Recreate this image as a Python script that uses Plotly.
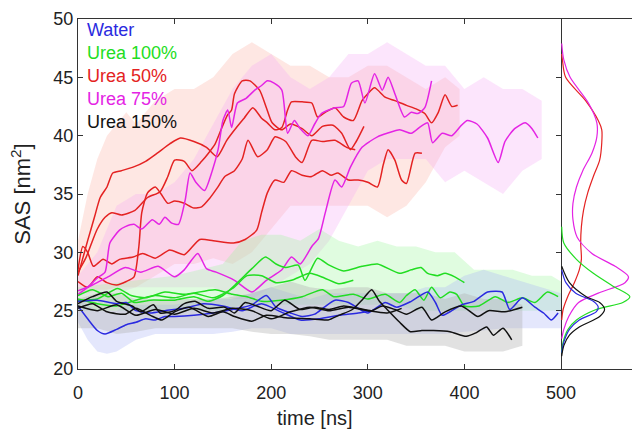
import plotly.graph_objects as go

# ---------------- data ----------------
# smoothed trajectories: time [ns] and SAS [nm^2]
water_1_t = [0,10,20,28,40,50,60,70,80,90,100,120,140,160,180,195,205,220,232,245,255,266,280,290,300,310,318,330,345,362,370,377,387,397,410,424,439,447,460,473,482,490,497]
water_1_v = [25.4,24.3,23.3,23.0,23.4,23.8,24.0,24.3,24.2,24.5,24.5,24.6,24.8,25.1,25.5,26.3,25.3,24.8,24.5,24.7,25.3,25.9,25.7,25.2,24.8,25.3,25.7,25.3,25.8,26.6,25.7,24.6,25.0,25.5,25.8,26.6,26.6,25.1,26.1,25.3,24.8,24.2,24.8]
water_2_t = [0,20,40,50,60,75,90,110,130,150,170,190,210,230,250,270,290,305]
water_2_v = [25.8,25.9,25.6,25.7,25.0,24.8,25.0,25.2,25.6,25.4,25.0,25.6,24.9,24.2,24.3,24.6,24.8,25.0]

u150_1_t = [0,15,30,40,56,65,78,85,100,110,121,135,152,162,173,185,200,214,230,245,260,275,290,304,315,328,340,356,366,380,397,414,425,442,460]
u150_1_v = [25.6,26.2,26.6,25.8,25.4,24.9,25.5,24.8,25.0,25.6,25.8,25.2,25.3,24.8,25.7,25.4,25.0,25.9,25.1,25.3,25.1,25.4,25.2,25.0,25.4,25.1,24.7,25.3,24.2,24.9,25.4,24.5,25.0,24.9,25.3]
u150_2_t = [0,15,30,49,60,75,87,100,115,135,150,162,180,195,215,240,259,270,284,295,304,312,320,333,344,356,368,385,402,412,423,430,440,449]
u150_2_v = [25.2,25.6,24.9,24.7,25.2,24.6,24.2,24.9,25.3,24.5,24.9,24.5,24.1,24.6,24.4,24.3,24.2,24.6,25.1,26.0,26.8,25.8,25.1,24.0,23.2,23.3,23.3,23.2,22.8,23.1,23.6,22.9,23.5,22.5]
u150_3_t = [0,20,40,60,80,100,120,140,160,180,200,220,240,260,280,300,320,335]
u150_3_v = [25.4,25.0,25.5,24.6,25.1,24.7,25.2,24.8,25.2,25.0,24.3,24.9,25.3,25.0,25.3,25.0,24.8,25.2]

u100_1_t = [0,15,31,45,58,75,100,120,135,150,165,180,194,205,215,228,235,248,260,275,294,310,333,345,355,362,372,380,390,400]
u100_1_v = [26.3,26.8,26.2,26.5,25.7,25.9,25.9,26.2,25.8,26.3,27.4,28.6,29.6,29.0,28.7,28.9,27.6,29.5,28.9,28.4,28.8,29.0,28.2,28.5,28.7,28.2,28.0,28.2,27.9,27.4]
u100_2_t = [0,20,41,55,70,90,110,142,160,175,190,210,232,253,265,285,300,318,333,340,349,358,366,375,385,392,400,415,432,445,460,473,486,497]
u100_2_v = [25.9,26.0,26.9,26.3,26.1,26.6,26.4,26.8,26.4,26.2,25.8,25.9,26.2,26.8,26.2,26.4,26.0,26.4,25.7,26.3,26.8,25.9,27.0,26.1,26.6,26.4,25.4,25.4,26.2,25.7,26.1,25.7,26.6,26.2]
u100_3_t = [0,20,40,60,80,100,120,140,160,175,190,205,221,240,255,270,285]
u100_3_v = [26.0,25.6,25.4,25.9,26.3,26.1,26.5,26.1,26.9,28.0,28.0,27.4,27.6,28.2,27.8,27.3,27.6]

u75_1_t = [0,15,31,49,65,83,100,110,124,133,143,162,180,195,211,221,230,242,249,256,266,273,282,294,302,310,320,333,345,355,362,367,377,387,397,403,413,424,435,442,452,463,470,476]
u75_1_v = [26.7,27.2,27.9,28.7,28.3,28.8,27.9,28.5,29.9,28.6,28.3,27.6,26.6,27.6,28.5,29.6,29.0,30.5,31.2,33.4,36.2,35.6,37.3,39.0,39.5,39.9,40.2,40.5,40.2,40.8,41.1,39.4,40.2,40.0,40.9,41.3,41.0,39.8,37.7,39.5,40.6,41.1,40.6,39.8]
u75_2_t = [0,10,20,28,33,43,49,58,66,77,84,90,97,104,111,116,122,131,139,145,150,155,159,165,174,183,190,196,203,211,217,224,230,238,245,252,266,275,283,290,297,307,315,321,328,338,345,352,359,366]
u75_2_v = [26.4,27.0,27.8,28.3,30.8,31.9,32.2,32.4,32.0,32.8,32.4,33.0,32.5,32.4,34.5,36.8,36.0,35.3,37.0,38.8,41.3,42.2,40.7,42.8,43.2,43.9,44.3,44.7,44.5,43.9,40.2,41.3,40.6,40.0,41.0,41.9,42.4,42.5,44.5,44.7,42.8,45.3,43.9,45.0,43.6,41.6,42.0,41.9,42.4,44.7]

u50_1_t = [0,5,10,17,23,30,36,45,57,70,82,95,106,120,133,144,154,164,172,181,190,196,204,211,217,221,232,242,248,256,266,275,285,294,300,307,318,328,340,350,359,366,373,380,387,393]
u50_1_v = [28.0,29.5,31.0,33.0,34.7,35.6,36.8,37.0,37.3,37.8,38.5,39.3,39.8,39.5,39.0,38.2,39.6,40.7,41.5,42.4,41.5,41.1,40.5,40.7,42.2,42.9,42.9,42.8,41.6,42.0,42.4,41.6,41.3,43.0,43.6,44.1,43.3,43.0,42.6,42.3,41.9,41.1,42.0,43.5,42.5,42.6]
u50_2_t = [0,8,15,20,28,35,45,59,72,85,93,100,110,118,128,135,142,149,155,159,162,170,178,188,195,201,211,220,232,242,253,264,273,282,288,296]
u50_2_v = [28.3,29.5,31.0,32.0,33.0,33.4,33.2,33.6,34.7,35.2,36.5,37.9,37.8,37.0,37.8,38.5,39.3,40.7,41.8,42.2,43.6,44.7,44.7,43.9,42.4,41.1,40.5,41.0,40.6,40.0,40.8,40.9,40.2,38.8,39.5,40.8]
u50_3_t = [0,10,20,30,40,50,58,63,66,72,80,86,93,100,110,120,128,136,144,152,162,170,176,186,196,204,215,225,232,242,253,266,278,287]
u50_3_v = [27.5,27.0,27.9,27.4,27.2,27.5,27.9,30.5,33.4,35.1,35.6,35.0,34.2,34.4,34.2,33.8,33.9,34.6,35.5,36.5,37.0,38.0,39.6,38.2,38.8,39.9,39.5,38.2,37.7,39.6,39.5,39.6,39.0,38.8]
u50_4_t = [0,5,10,16,26,35,43,57,67,80,95,110,126,140,161,173,185,190,196,204,213,221,232,242,253,262,269,280,290,300,310,316,321,328,335,340,349,356]
u50_4_v = [28.5,30.5,30.0,28.8,29.4,29.0,29.4,29.6,29.9,29.5,30.2,29.8,31.1,31.0,30.8,31.1,31.9,33.4,35.1,36.2,36.0,37.0,36.6,36.5,37.0,36.6,36.8,36.2,36.2,36.0,35.6,37.5,38.8,37.9,36.2,35.9,38.5,38.5]

# envelopes of the raw (unsmoothed) fluctuations
red_band_t  = [0,10,20,30,40,50,60,80,100,120,140,160,180,200,220,240,260,280,300,320,340,360,380,395]
red_band_hi = [31,35,38,40,41,42,41,43,44,44,45,47,48,47,46,46,45,45,46,46,45,44,45,44]
red_band_lo = [26.5,26.5,26.8,26.8,27,27,27,28,29,29,29.5,29,30,32,34,34,34,34,34,33,34,36,39,40]
mag_band_t  = [0,20,40,60,80,100,120,140,160,180,200,220,240,260,280,300,320,340,360,380,400,420,440,460,480]
mag_band_hi = [28,30,34,35,35,36,38,41,44,46,47,45,44,45,47,47,48,47,46,46,44,45,44,44,43]
mag_band_lo = [25.5,26,26.5,27,27,27,27,27,26,26,27,28,29,31,34,37,38,38,38,36,37,36,35,37,38]
grn_band_t  = [0,50,100,150,170,190,210,230,250,270,290,310,330,350,370,390,410,430,450,470,490,500]
grn_band_hi = [27,27.5,28,29,31,31.5,31.5,31,32,31,30.5,31,30.5,30.5,30,30,28.5,28.5,28.5,28,28,27.5]
grn_band_lo = [25,25,25,25,25.5,25.5,25.5,25.5,25.5,25.5,25.5,25.5,25.5,25,25,25,25,25,25,25,25,25]
gry_band_t  = [0,20,40,60,80,100,120,140,160,180,200,220,240,260,280,300,320,340,360,380,400,420,440,460]
gry_band_hi = [26,26.5,26.5,26,26,26,26,26,26.2,26.5,27,27.5,27,26.8,27,27,26.5,26.5,26.5,26,26.5,26,26,25.5]
gry_band_lo = [23.5,23.5,23,23.2,23.5,23.5,23.5,23.5,23.5,23.2,23,23,22.8,22.5,22.5,22.5,22.5,22,22,22,21.5,21.5,21.5,22]
blu_band_t  = [0,10,20,30,40,50,60,80,100,120,140,160,180,200,220,240,260,280,300,320,340,360,380,400,420,440,460,480,500]
blu_band_hi = [26,25.5,25,25,25,25.5,25.5,25.5,25.5,25.8,26,26,26.5,27,26.5,26,26.5,26.5,26.5,26.5,26.5,27,27,28,28.5,28,27.5,27,26.5]
blu_band_lo = [24,22.5,21.5,21.3,21.5,22,22.5,23,23,23,23,23.2,23.5,23.5,23,23,23,23,23,23,23,23,23,23.2,23.3,23.5,23.5,23.5,23.5]

# distributions (side panel): SAS value and relative density
dist_red_v = [47.0,46.5,45.0,43.0,41.3,40.5,39.4,37.9,36.5,35.1,33.6,32.2,30.8,29.4,28.5,27.4,26.2,25.1,24.2]
dist_red_d = [0,0.01,0.056,0.34,0.52,0.57,0.57,0.54,0.45,0.37,0.31,0.28,0.27,0.28,0.25,0.18,0.085,0.02,0.0]
dist_mag_v = [47.9,46.5,45.0,42.8,41.1,39.9,38.5,37.0,35.6,34.2,32.8,31.3,29.9,28.8,27.9,27.4,26.5,25.7,24.5,23.4,22.6]
dist_mag_d = [0,0.03,0.12,0.38,0.50,0.50,0.43,0.30,0.21,0.16,0.16,0.22,0.43,0.76,0.95,0.90,0.52,0.24,0.10,0.03,0.0]
dist_grn_v = [32.2,30.8,29.4,28.2,27.1,26.2,25.7,25.1,24.2,23.4,22.3,21.4]
dist_grn_d = [0,0.03,0.21,0.45,0.73,0.97,0.87,0.49,0.21,0.09,0.02,0]
dist_blu_v = [28.5,27.4,26.5,25.8,25.3,24.9,24.2,23.4,22.3,21.4]
dist_blu_d = [0,0.06,0.2,0.45,0.52,0.49,0.25,0.11,0.03,0]
dist_blk_v = [28.8,27.4,26.2,25.7,25.1,24.5,23.6,22.9,22.0,21.1]
dist_blk_d = [0,0.11,0.35,0.54,0.61,0.54,0.25,0.11,0.03,0]

legend_labels = ["Water", "Urea 100%", "Urea 50%", "Urea 75%", "Urea 150%"]
x_ticks = [0, 100, 200, 300, 400, 500]
y_ticks = [20, 25, 30, 35, 40, 45, 50]

# ---------------- styles ----------------
C_BLUE, C_GREEN, C_RED, C_MAG, C_BLACK = "#2a2ae0", "#22dd22", "#e42222", "#e424e4", "#111111"
FONT = "Liberation Sans, Arial, sans-serif"

fig = go.Figure()

def band(t, hi, lo, color):
    fig.add_trace(go.Scatter(x=t + t[::-1], y=hi + lo[::-1], fill="toself",
                             fillcolor=color, line=dict(width=0), mode="lines",
                             hoverinfo="skip", xaxis="x", yaxis="y"))

band(red_band_t, red_band_hi, red_band_lo, "rgba(250,170,155,0.28)")
band(mag_band_t, mag_band_hi, mag_band_lo, "rgba(245,170,245,0.30)")
band(grn_band_t, grn_band_hi, grn_band_lo, "rgba(160,245,160,0.32)")
band(blu_band_t, blu_band_hi, blu_band_lo, "rgba(170,180,245,0.32)")
band(gry_band_t, gry_band_hi, gry_band_lo, "rgba(175,175,175,0.38)")

def line(t, v, color):
    fig.add_trace(go.Scatter(x=t, y=v, mode="lines",
                             line=dict(color=color, width=1.5, shape="spline", smoothing=0.6),
                             xaxis="x", yaxis="y"))

for t, v in [(u50_4_t, u50_4_v), (u50_3_t, u50_3_v), (u50_2_t, u50_2_v), (u50_1_t, u50_1_v)]:
    line(t, v, C_RED)
for t, v in [(u75_1_t, u75_1_v), (u75_2_t, u75_2_v)]:
    line(t, v, C_MAG)
for t, v in [(u100_1_t, u100_1_v), (u100_2_t, u100_2_v), (u100_3_t, u100_3_v)]:
    line(t, v, C_GREEN)
for t, v in [(water_1_t, water_1_v), (water_2_t, water_2_v)]:
    line(t, v, C_BLUE)
for t, v in [(u150_1_t, u150_1_v), (u150_2_t, u150_2_v), (u150_3_t, u150_3_v)]:
    line(t, v, C_BLACK)

for d, v, c in [(dist_red_d, dist_red_v, C_RED), (dist_mag_d, dist_mag_v, C_MAG),
                (dist_grn_d, dist_grn_v, C_GREEN), (dist_blu_d, dist_blu_v, C_BLUE),
                (dist_blk_d, dist_blk_v, C_BLACK)]:
    fig.add_trace(go.Scatter(x=d, y=v, mode="lines",
                             line=dict(color=c, width=1.2, shape="spline", smoothing=0.8),
                             xaxis="x2", yaxis="y"))

legend_colors = [C_BLUE, C_GREEN, C_RED, C_MAG, C_BLACK]
for i, (lab, col) in enumerate(zip(legend_labels, legend_colors)):
    fig.add_annotation(text=lab, x=0.012, xref="paper", y=49.05 - i * 1.97, yref="y",
                       xanchor="left", yanchor="middle", showarrow=False,
                       font=dict(color=col, size=18, family=FONT))

# x-axis title placed as an annotation below the tick labels
fig.add_annotation(text="time [ns]", x=0.428, xref="paper", y=-0.14, yref="paper",
                   xanchor="center", yanchor="middle", showarrow=False,
                   font=dict(color="#222222", size=20, family=FONT))

split = 483 / 554
fig.update_layout(
    template="none",
    width=632, height=429, margin=dict(l=78, r=0, t=19, b=60, pad=0, autoexpand=False),
    paper_bgcolor="white", plot_bgcolor="white", showlegend=False,
    font=dict(family=FONT, size=18, color="#222222"),
    xaxis=dict(domain=[0, split], range=[0, 500], tickvals=x_ticks, ticks="inside",
               ticklen=5, tickcolor="#333", showline=True, linecolor="#333", linewidth=1,
               mirror="ticks", showgrid=False, zeroline=False, automargin=False,
               ticklabelstandoff=7),
    yaxis=dict(range=[20, 50], tickvals=y_ticks, ticks="inside", ticklen=5, tickcolor="#333",
               showline=True, linecolor="#333", linewidth=1, mirror="ticks",
               showgrid=False, zeroline=False, automargin=False,
               title=dict(text="SAS [nm<sup>2</sup>]", standoff=16)),
    xaxis2=dict(domain=[split, 1], anchor="y", range=[-0.01, 1.0], showline=True,
                linecolor="#333", linewidth=1, mirror=True, showticklabels=False,
                ticks="", showgrid=False, zeroline=False, automargin=False),
)

fig.write_html("out.html")
